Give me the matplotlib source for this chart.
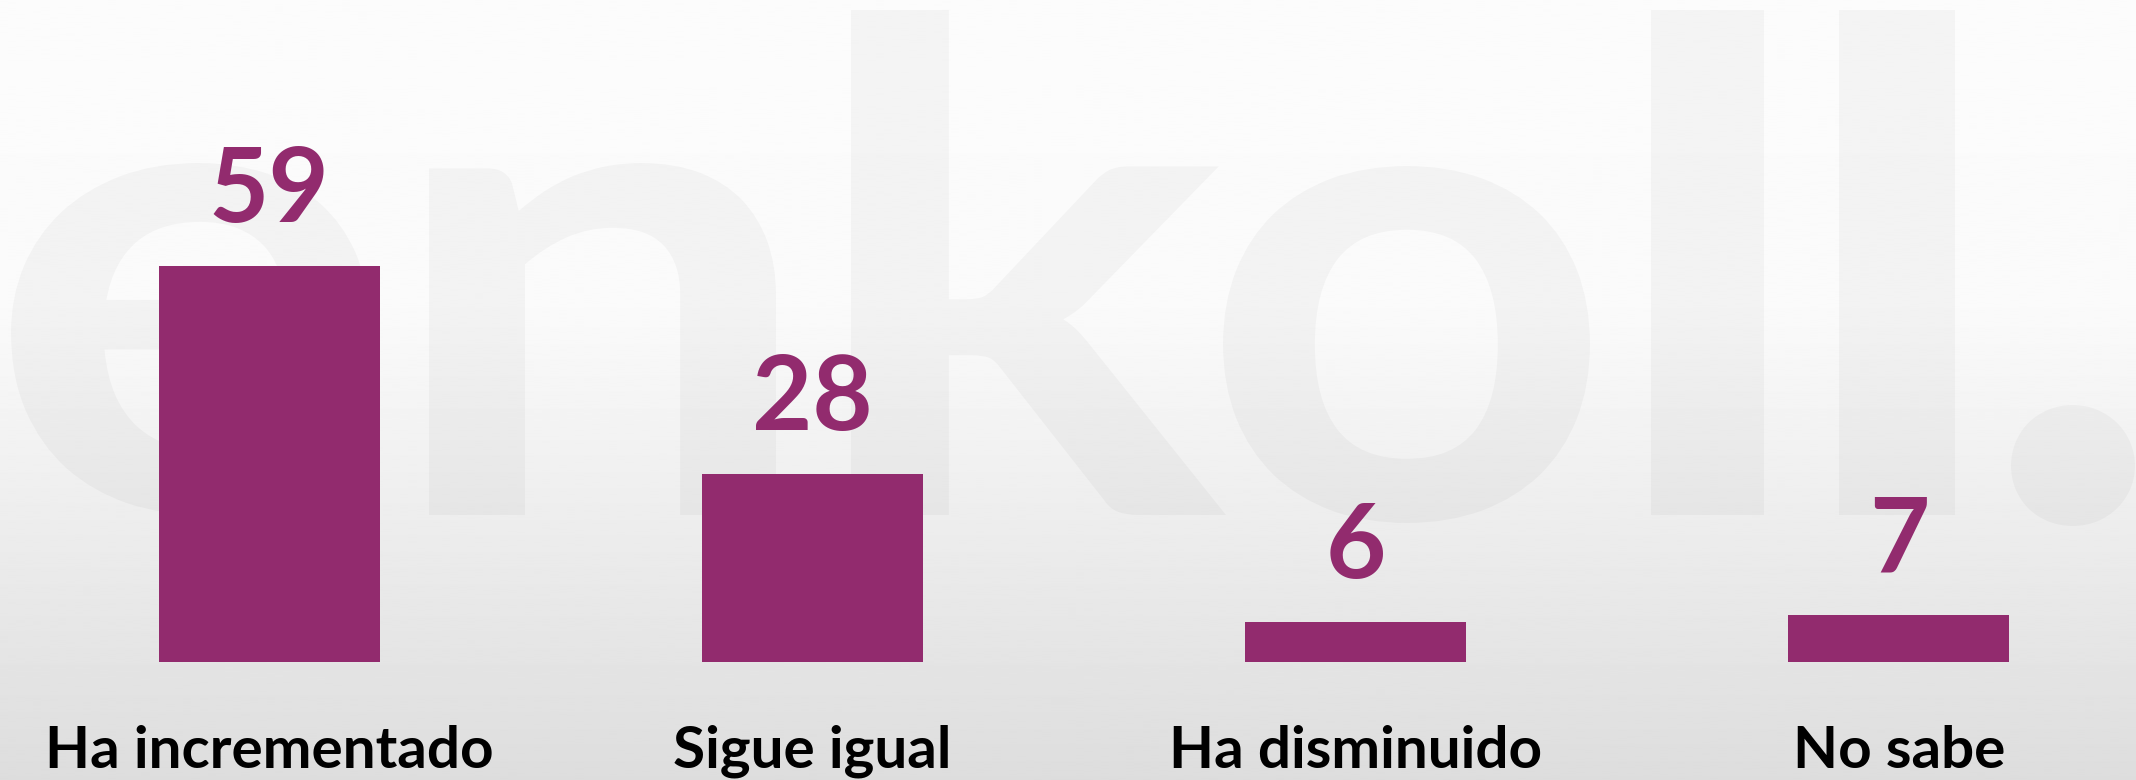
import matplotlib
matplotlib.use('Agg')
import matplotlib.pyplot as plt
import numpy as np
from matplotlib.textpath import TextPath
from matplotlib.font_manager import FontProperties
from matplotlib.patches import PathPatch
from matplotlib.transforms import Affine2D

# ---- data ----
categories = ["Ha incrementado", "Sigue igual", "Ha disminuido", "No sabe"]
values = [59, 28, 6, 7]

BAR_COLOR = '#922B6E'
W, H = 2136, 780
PX2PT = 72 / 100

fig = plt.figure(figsize=(W / 100, H / 100), dpi=100)

# ---- background gradient + watermark ----
bg = fig.add_axes([0, 0, 1, 1], zorder=0)
bg.set_xlim(0, W)
bg.set_ylim(0, H)
bg.axis('off')
t = np.linspace(0, 1, 512)
shade = np.interp(t, [0, 0.4, 1.0], [252, 250, 221])[:, None]
bg.imshow(shade, cmap='gray', vmin=0, vmax=255, extent=[0, W, 0, H],
          aspect='auto', origin='upper', interpolation='bilinear')

fp = FontProperties(family='Lato', weight='bold')
wm_letters = ['e', 'n', 'k', 'o', 'l', 'l', '.']
# bounding boxes in pixels (x0, x1, ytop, ybottom) measured y-down
wm_boxes = [(11, 368, 163, 515), (429, 776, 163, 515), (851, 1226, 10, 515),
            (1223, 1590, 166, 523), (1651, 1764, 10, 515), (1839, 1955, 10, 515),
            (2011, 2135, 405, 526)]
for ch, (x0, x1, yt, yb) in zip(wm_letters, wm_boxes):
    tp = TextPath((0, 0), ch, prop=fp, size=100)
    ext = tp.get_extents()
    sx = (x1 - x0) / ext.width
    sy = (yb - yt) / ext.height
    tr = Affine2D().translate(-ext.x0, -ext.y0).scale(sx, sy).translate(x0, H - yb)
    bg.add_patch(PathPatch(tr.transform_path(tp), facecolor='black',
                           alpha=0.032, edgecolor='none'))

# ---- bars ----
bottom_px = 662
px_per_unit = 6.71
spacing = 543.3
first_center = 269
ax = fig.add_axes([0, (H - bottom_px) / H, 1, bottom_px / H], zorder=1)
ax.patch.set_alpha(0)
ax.set_ylim(0, bottom_px / px_per_unit)
ax.set_xlim(-first_center / spacing, (W - first_center) / spacing)
ax.axis('off')

x = np.arange(len(categories))
ax.bar(x, values, width=221 / spacing, color=BAR_COLOR)

for xi, v, cat in zip(x, values, categories):
    ax.annotate(f"{v}", (xi, v), xytext=(0, 44 * PX2PT), textcoords='offset points',
                ha='center', va='baseline', fontsize=75, fontweight='bold',
                color=BAR_COLOR, family='Lato', annotation_clip=False)
    ax.annotate(cat, (xi, 0), xytext=(0, -106 * PX2PT), textcoords='offset points',
                ha='center', va='baseline', fontsize=42, fontweight='bold',
                color='black', family='Lato', annotation_clip=False)

fig.savefig('out.png', dpi=100)
